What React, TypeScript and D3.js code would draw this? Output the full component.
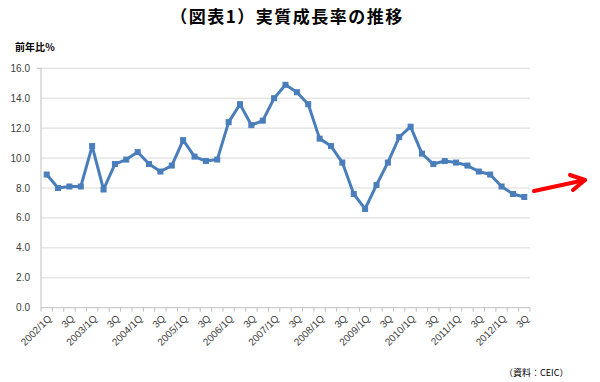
import React from "react";
import * as d3 from "d3";

const categories: string[] = [];
const years = [2002, 2003, 2004, 2005, 2006, 2007, 2008, 2009, 2010, 2011, 2012];
years.forEach((y) => {
  ["1Q", "2Q", "3Q", "4Q"].forEach((q) => categories.push(`${y}/${q}`));
});
const cats = categories.slice(0, 43);

const growth = [
  8.9, 8.0, 8.1, 8.1,
  10.8, 7.9, 9.6, 9.9,
  10.4, 9.6, 9.1, 9.5,
  11.2, 10.1, 9.8, 9.9,
  12.4, 13.6, 12.2, 12.5,
  14.0, 14.9, 14.4, 13.6,
  11.3, 10.8, 9.7, 7.6,
  6.6, 8.2, 9.7, 11.4,
  12.1, 10.3, 9.6, 9.8,
  9.7, 9.5, 9.1, 8.9,
  8.1, 7.6, 7.4,
];

const yTicks = [0, 2, 4, 6, 8, 10, 12, 14, 16];

const tickLabel = (c: string, i: number) => {
  if (i % 2 !== 0) return "";
  const [y, q] = c.split("/");
  return q === "1Q" ? `${y}/1Q` : "3Q";
};

const W = 600;
const H = 382;
const left = 41;
const right = 530;
const top = 68.3;
const bottom = 307.7;

export default function App() {
  const x = d3.scaleBand<string>().domain(cats).range([left, right]);
  const y = d3.scaleLinear().domain([0, 16]).range([bottom, top]);
  const cx = (c: string) => (x(c) as number) + x.bandwidth() / 2;
  const line = d3
    .line<number>()
    .x((_, i) => cx(cats[i]))
    .y((d) => y(d));
  const jp = "'Noto Sans CJK JP', 'Noto Sans', sans-serif";
  const num = "'Liberation Sans', Arial, sans-serif";
  const boundaries = cats.map((c) => x(c) as number).concat([right]);

  return (
    <svg
      width={W}
      height={H}
      style={{ position: "absolute", left: 0, top: 0, background: "#fff" }}
    >
      <text
        x={287}
        y={23}
        textAnchor="middle"
        fontFamily={jp}
        fontSize={17}
        fontWeight={600}
        letterSpacing={1.5}
        fill="#000"
      >
        （図表1）実質成長率の推移
      </text>
      <text x={15} y={51} fontFamily={jp} fontSize={10} fontWeight={700} fill="#000">
        前年比％
      </text>
      {yTicks.map((t) => (
        <g key={t}>
          {t > 0 && (
            <line x1={left} x2={right} y1={y(t)} y2={y(t)} stroke="#d9d9d9" strokeWidth={1} />
          )}
          <text
            x={30}
            y={y(t)}
            dy="0.35em"
            textAnchor="end"
            fontFamily={num}
            fontSize={10}
            fill="#404040"
          >
            {t.toFixed(1)}
          </text>
        </g>
      ))}
      <line x1={left} x2={left} y1={top} y2={bottom} stroke="#bfbfbf" strokeWidth={1} />
      <line x1={left - 4} x2={left} y1={top} y2={top} stroke="#bfbfbf" />
      <line x1={left} x2={right} y1={bottom} y2={bottom} stroke="#bfbfbf" strokeWidth={1} />
      {boundaries.map((b, i) => (
        <line key={i} x1={b} x2={b} y1={bottom} y2={bottom + 4} stroke="#bfbfbf" />
      ))}
      {cats.map((c, i) => {
        const lbl = tickLabel(c, i);
        if (!lbl) return null;
        return (
          <text
            key={c}
            transform={`translate(${cx(c) + 3},${bottom + 9}) rotate(-45)`}
            textAnchor="end"
            dy="0.35em"
            fontFamily={num}
            fontSize={10}
            fill="#404040"
          >
            {lbl}
          </text>
        );
      })}
      <path d={line(growth) || ""} fill="none" stroke="#4a7ebb" strokeWidth={3} strokeLinejoin="round" />
      {growth.map((v, i) => (
        <rect
          key={i}
          x={cx(cats[i]) - 2.5}
          y={y(v) - 2.5}
          width={5}
          height={5}
          fill="#4a7ebb"
          stroke="#4a7ebb"
        />
      ))}
      <g stroke="#ff0000" strokeWidth={4} strokeLinecap="round" fill="none">
        <line x1={534} y1={191} x2={585} y2={180} />
        <polyline points="570,175 585,180 573,190" strokeLinejoin="round" />
      </g>
      <text x={504} y={376} fontFamily={jp} fontSize={9} fill="#000">
        （資料：CEIC）
      </text>
    </svg>
  );
}
